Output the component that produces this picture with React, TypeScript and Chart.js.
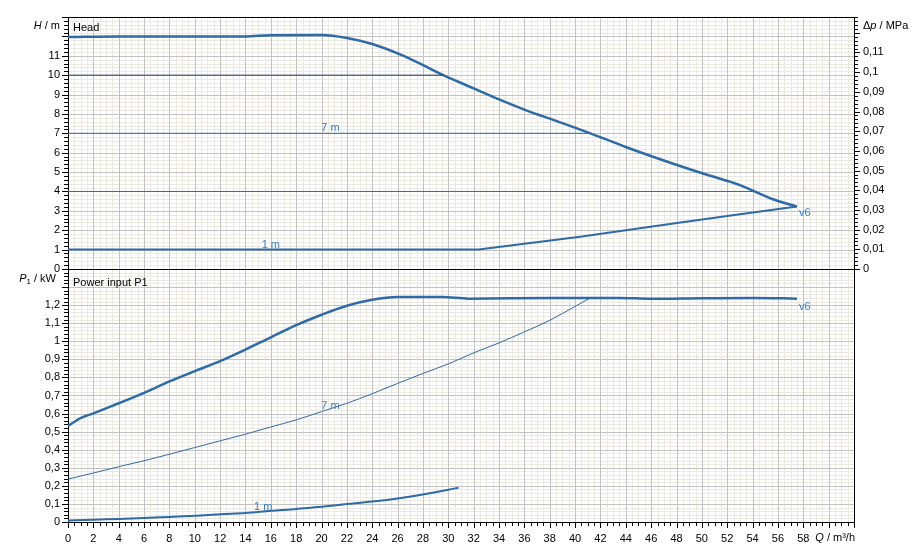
import React, { useEffect, useRef } from 'react';
import { Chart, registerables } from 'chart.js';

Chart.register(...registerables);

const FONT = '"Liberation Sans", Arial, sans-serif';
const CURVE = '#2e6aa6';
const CURVE_DARK = '#1f3a63';
const LABEL_BLUE = '#3d7ec2';
const GRID_MINOR = '#ebe9e1';
const GRID_MAJOR = '#c3c3c3';

const X_MAX = 62;
const H_MAX = 13;
const DP_MAX = 0.128;
const P_MAX = 1.4;

// tick labels
const flowTickLabels = [0, 2, 4, 6, 8, 10, 12, 14, 16, 18, 20, 22, 24, 26, 28, 30, 32, 34, 36, 38, 40, 42, 44, 46, 48, 50, 52, 54, 56, 58];
const headTickLabels = [0, 1, 2, 3, 4, 5, 6, 7, 8, 9, 10, 11];
const dpTickLabels = [0, 0.01, 0.02, 0.03, 0.04, 0.05, 0.06, 0.07, 0.08, 0.09, 0.1, 0.11];
const powerTickLabels = [0, 0.1, 0.2, 0.3, 0.4, 0.5, 0.6, 0.7, 0.8, 0.9, 1, 1.1, 1.2];

// Head: max curve (v6)
const flowMaxHead = [0, 4, 8, 14, 16, 20, 22, 24, 26.2, 28, 29.6, 32, 34.1, 36.2, 38.5, 41.2, 44.1, 47.75, 50.4, 53, 55.6, 57.5];
const headMax = [11.97, 12.0, 11.99, 12.0, 12.06, 12.07, 11.92, 11.61, 11.07, 10.52, 10.0, 9.32, 8.72, 8.17, 7.64, 7.0, 6.27, 5.43, 4.86, 4.33, 3.6, 3.22];

// Head: control curves
const flowCtrl10 = [0, 29.6];
const headCtrl10 = [10, 10];
const flowCtrl7 = [0, 41.2];
const headCtrl7 = [7, 7];
const flowCtrl4 = [0, 54.3];
const headCtrl4 = [4, 4];
const flowCtrl1Head = [0, 32.4, 36, 40.4, 44, 47.75, 52, 57.5];
const headCtrl1 = [1, 1, 1.3, 1.66, 2.0, 2.35, 2.73, 3.22];

// Power input P1
const flowMaxPower = [0, 1.07, 2, 4, 6, 8, 10, 12, 14, 16, 18, 20, 22, 24, 26, 29.5, 31.6, 38.2, 43.5, 46, 50, 54, 57.5];
const powerMax = [0.532, 0.578, 0.601, 0.657, 0.715, 0.778, 0.835, 0.89, 0.954, 1.022, 1.089, 1.147, 1.197, 1.23, 1.245, 1.245, 1.236, 1.24, 1.24, 1.235, 1.238, 1.24, 1.236];
const flowCtrl7Power = [0, 2, 4, 6, 8, 10, 12, 14, 16, 18, 20, 22, 24, 26, 28, 30, 32, 34, 36, 38, 40, 41.2];
const powerCtrl7 = [0.2375, 0.271, 0.306, 0.339, 0.375, 0.412, 0.449, 0.486, 0.526, 0.565, 0.611, 0.657, 0.71, 0.767, 0.822, 0.875, 0.936, 0.991, 1.052, 1.116, 1.193, 1.24];
const flowCtrl1Power = [0, 2, 4, 6, 8, 10, 12, 14, 16, 18, 20, 22, 24, 26, 28, 30, 30.8];
const powerCtrl1 = [0.008, 0.013, 0.017, 0.022, 0.028, 0.034, 0.043, 0.05, 0.062, 0.072, 0.085, 0.099, 0.113, 0.13, 0.152, 0.178, 0.19];

// layout (page pixels)
const PAGE_W = 921;
const PAGE_H = 559;
const LEFT_W = 68;
const RIGHT_W = 67;
const PLOT_TOP = 17;
const SEP_Y = 269;
const SEP_PAD = 18;
const TOP_CANVAS_H = SEP_Y + SEP_PAD;
const BOT_CANVAS_TOP = SEP_Y - SEP_PAD;
const BOT_CANVAS_H = PAGE_H - BOT_CANVAS_TOP;
const BOT_AXIS_Y = 522;

const fmt = (v: number) => String(+v.toFixed(4)).replace('.', ',');
const labelCb = (list: number[]) => {
  const set = list.map(fmt);
  return (v: any) => {
    const s = fmt(Number(v));
    return set.includes(s) ? s : '';
  };
};
const pts = (xs: number[], ys: number[]) => xs.map((x, i) => ({ x, y: ys[i] }));

const ds = (data: any[], color: string, width: number, yAxisID: string, smooth: boolean) => ({
  data,
  borderColor: color,
  borderWidth: width,
  pointRadius: 0,
  fill: false,
  tension: 0,
  cubicInterpolationMode: smooth ? ('monotone' as const) : ('default' as const),
  yAxisID,
  xAxisID: 'x',
  borderJoinStyle: 'round' as const,
});

type Part = { t: string; it?: boolean; sub?: boolean };
function drawRich(ctx: CanvasRenderingContext2D, parts: Part[], x: number, y: number, align: 'left' | 'right') {
  const fonts = parts.map(p => `${p.it ? 'italic ' : ''}${p.sub ? 8 : 11}px ${FONT}`);
  const widths = parts.map((p, i) => { ctx.font = fonts[i]; return ctx.measureText(p.t).width; });
  const total = widths.reduce((a, b) => a + b, 0);
  let cx = align === 'right' ? x - total : x;
  ctx.textAlign = 'left';
  ctx.textBaseline = 'middle';
  parts.forEach((p, i) => {
    ctx.font = fonts[i];
    ctx.fillText(p.t, cx, y + (p.sub ? 3 : 0));
    cx += widths[i];
  });
}

function drawGrid(chart: any, yId: string, yStep: number, yEvery: number, yMaxVal: number) {
  const ctx: CanvasRenderingContext2D = chart.ctx;
  const a = chart.chartArea;
  const xs = chart.scales.x;
  const ys = chart.scales[yId];
  const nx = Math.round(X_MAX / 0.5);
  const ny = Math.round(yMaxVal / yStep);
  const pass = (major: boolean) => {
    ctx.beginPath();
    for (let i = 1; i < nx; i++) {
      if ((i % 4 === 0) !== major) continue;
      const p = Math.round(xs.getPixelForValue(i * 0.5)) + 0.5;
      ctx.moveTo(p, a.top);
      ctx.lineTo(p, a.bottom);
    }
    for (let j = 1; j < ny; j++) {
      if ((j % yEvery === 0) !== major) continue;
      const p = Math.round(ys.getPixelForValue(j * yStep)) + 0.5;
      ctx.moveTo(a.left, p);
      ctx.lineTo(a.right, p);
    }
    ctx.strokeStyle = major ? GRID_MAJOR : GRID_MINOR;
    ctx.lineWidth = 1;
    ctx.stroke();
  };
  ctx.save();
  pass(false);
  pass(true);
  ctx.restore();
}

function drawYTicks(ctx: CanvasRenderingContext2D, scale: any, step: number, every: number, maxVal: number, xEdge: number, dir: number) {
  const n = Math.floor(maxVal / step + 1e-6);
  ctx.beginPath();
  for (let j = 0; j <= n; j++) {
    const len = j % every === 0 ? 6 : 4;
    const p = Math.round(scale.getPixelForValue(j * step)) + 0.5;
    ctx.moveTo(xEdge, p);
    ctx.lineTo(xEdge + dir * len, p);
  }
  ctx.strokeStyle = '#000';
  ctx.lineWidth = 1;
  ctx.stroke();
}

function drawXTicks(ctx: CanvasRenderingContext2D, scale: any, yEdge: number) {
  const n = Math.round(X_MAX / 0.5);
  ctx.beginPath();
  for (let i = 0; i <= n; i++) {
    const len = i % 4 === 0 ? 6 : 4;
    const p = Math.round(scale.getPixelForValue(i * 0.5)) + 0.5;
    ctx.moveTo(p, yEdge);
    ctx.lineTo(p, yEdge + len);
  }
  ctx.strokeStyle = '#000';
  ctx.lineWidth = 1;
  ctx.stroke();
}

function hLine(ctx: CanvasRenderingContext2D, x0: number, x1: number, y: number) {
  ctx.beginPath();
  ctx.moveTo(x0, Math.round(y) + 0.5);
  ctx.lineTo(x1, Math.round(y) + 0.5);
  ctx.strokeStyle = '#000';
  ctx.lineWidth = 1;
  ctx.stroke();
}

function curveLabel(ctx: CanvasRenderingContext2D, text: string, x: number, y: number, align: CanvasTextAlign) {
  ctx.font = `11px ${FONT}`;
  ctx.fillStyle = LABEL_BLUE;
  ctx.textAlign = align;
  ctx.textBaseline = 'middle';
  ctx.fillText(text, x, y);
}

const tickFont = { family: FONT, size: 11 };

const topPlugin = {
  id: 'topDecor',
  beforeDraw(chart: any) {
    drawGrid(chart, 'yH', 0.2, 5, H_MAX);
  },
  afterDraw(chart: any) {
    const ctx: CanvasRenderingContext2D = chart.ctx;
    const a = chart.chartArea;
    const xs = chart.scales.x;
    const yH = chart.scales.yH;
    const yDp = chart.scales.yDp;
    ctx.save();
    hLine(ctx, a.left, a.right, a.top);
    drawYTicks(ctx, yH, 0.2, 5, H_MAX, a.left, -1);
    drawYTicks(ctx, yDp, 0.002, 5, DP_MAX, a.right, 1);
    ctx.fillStyle = '#000';
    drawRich(ctx, [{ t: 'H', it: true }, { t: ' / m' }], 60, 26, 'right');
    drawRich(ctx, [{ t: 'Δ' }, { t: 'p', it: true }, { t: ' / MPa' }], 863, 26, 'left');
    ctx.font = `11px ${FONT}`;
    ctx.textAlign = 'left';
    ctx.textBaseline = 'middle';
    ctx.fillText('Head', a.left + 5, 28);
    curveLabel(ctx, '7 m', xs.getPixelForValue(20.7), yH.getPixelForValue(7) - 5, 'center');
    curveLabel(ctx, '1 m', xs.getPixelForValue(16.0), yH.getPixelForValue(1) - 5, 'center');
    curveLabel(ctx, 'v6', xs.getPixelForValue(57.66), yH.getPixelForValue(2.89), 'left');
    ctx.restore();
  },
};

const bottomPlugin = {
  id: 'bottomDecor',
  beforeDraw(chart: any) {
    drawGrid(chart, 'yP', 0.02, 5, P_MAX);
  },
  afterDraw(chart: any) {
    const ctx: CanvasRenderingContext2D = chart.ctx;
    const a = chart.chartArea;
    const xs = chart.scales.x;
    const yP = chart.scales.yP;
    ctx.save();
    hLine(ctx, a.left, a.right + 1, a.top);
    drawYTicks(ctx, yP, 0.02, 5, P_MAX, a.left, -1);
    drawXTicks(ctx, xs, a.bottom);
    ctx.fillStyle = '#000';
    drawRich(ctx, [{ t: 'P', it: true }, { t: '1', sub: true }, { t: ' / kW' }], 56, 279 - BOT_CANVAS_TOP, 'right');
    drawRich(ctx, [{ t: 'Q', it: true }, { t: ' / m³/h' }], 855, 538 - BOT_CANVAS_TOP, 'right');
    ctx.font = `11px ${FONT}`;
    ctx.textAlign = 'left';
    ctx.textBaseline = 'middle';
    ctx.fillStyle = '#000';
    ctx.fillText('Power input P1', a.left + 5, 283 - BOT_CANVAS_TOP);
    curveLabel(ctx, 'v6', xs.getPixelForValue(57.66), yP.getPixelForValue(1.19), 'left');
    curveLabel(ctx, '7 m', xs.getPixelForValue(20.7), yP.getPixelForValue(0.642), 'center');
    curveLabel(ctx, '1 m', xs.getPixelForValue(15.4), yP.getPixelForValue(0.083), 'center');
    ctx.restore();
  },
};

export default function App() {
  const topRef = useRef<HTMLCanvasElement>(null);
  const botRef = useRef<HTMLCanvasElement>(null);

  useEffect(() => {
    document.body.style.margin = '0';
    const top = new Chart(topRef.current as HTMLCanvasElement, {
      type: 'line',
      data: {
        datasets: [
          ds(pts(flowCtrl10, headCtrl10), CURVE_DARK, 1, 'yH', false),
          ds(pts(flowCtrl7, headCtrl7), CURVE, 1, 'yH', false),
          ds(pts(flowCtrl4, headCtrl4), CURVE, 1, 'yH', false),
          ds(pts(flowCtrl1Head, headCtrl1), CURVE, 2, 'yH', false),
          ds(pts(flowMaxHead, headMax), CURVE, 2.5, 'yH', true),
        ] as any,
      },
      options: {
        responsive: false,
        animation: false,
        events: [],
        layout: { padding: { top: PLOT_TOP, left: 0, right: 0, bottom: 0 } },
        plugins: { legend: { display: false }, tooltip: { enabled: false } },
        scales: {
          x: {
            type: 'linear', min: 0, max: X_MAX,
            ticks: { display: false, stepSize: 2 },
            grid: { display: false, drawTicks: false },
            border: { display: true, color: '#000', width: 1 },
            afterFit: (s: any) => { s.height = TOP_CANVAS_H - SEP_Y; },
          },
          yH: {
            type: 'linear', position: 'left', min: 0, max: H_MAX,
            ticks: { stepSize: 1, autoSkip: false, padding: 8, color: '#000', font: tickFont, callback: labelCb(headTickLabels) },
            grid: { display: false, drawTicks: false },
            border: { display: true, color: '#000', width: 1 },
            afterFit: (s: any) => { s.width = LEFT_W; },
          },
          yDp: {
            type: 'linear', position: 'right', min: 0, max: DP_MAX,
            ticks: { stepSize: 0.01, autoSkip: false, padding: 9, color: '#000', font: tickFont, callback: labelCb(dpTickLabels) },
            grid: { display: false, drawTicks: false },
            border: { display: true, color: '#000', width: 1 },
            afterFit: (s: any) => { s.width = RIGHT_W; },
          },
        },
      } as any,
      plugins: [topPlugin],
    });

    const bottom = new Chart(botRef.current as HTMLCanvasElement, {
      type: 'line',
      data: {
        datasets: [
          ds(pts(flowCtrl7Power, powerCtrl7), CURVE, 1, 'yP', true),
          ds(pts(flowCtrl1Power, powerCtrl1), CURVE, 2, 'yP', true),
          ds(pts(flowMaxPower, powerMax), CURVE, 2.5, 'yP', true),
        ] as any,
      },
      options: {
        responsive: false,
        animation: false,
        events: [],
        layout: { padding: { top: SEP_Y - BOT_CANVAS_TOP, left: 0, right: 0, bottom: 0 } },
        plugins: { legend: { display: false }, tooltip: { enabled: false } },
        scales: {
          x: {
            type: 'linear', min: 0, max: X_MAX,
            ticks: { stepSize: 2, autoSkip: false, maxRotation: 0, padding: 10, color: '#000', font: tickFont, callback: labelCb(flowTickLabels) },
            grid: { display: false, drawTicks: false },
            border: { display: true, color: '#000', width: 1 },
            afterFit: (s: any) => { s.height = PAGE_H - BOT_AXIS_Y; },
          },
          yP: {
            type: 'linear', position: 'left', min: 0, max: P_MAX,
            ticks: { stepSize: 0.1, autoSkip: false, padding: 8, color: '#000', font: tickFont, callback: labelCb(powerTickLabels) },
            grid: { display: false, drawTicks: false },
            border: { display: true, color: '#000', width: 1 },
            afterFit: (s: any) => { s.width = LEFT_W; },
          },
          yR: {
            type: 'linear', position: 'right', min: 0, max: 1,
            ticks: { display: false },
            grid: { display: false, drawTicks: false },
            border: { display: true, color: '#000', width: 1 },
            afterFit: (s: any) => { s.width = RIGHT_W; },
          },
        },
      } as any,
      plugins: [bottomPlugin],
    });

    return () => {
      top.destroy();
      bottom.destroy();
    };
  }, []);

  return (
    <div style={{ position: 'relative', width: PAGE_W, height: PAGE_H, background: '#fff' }}>
      <canvas ref={topRef} width={PAGE_W} height={TOP_CANVAS_H} style={{ position: 'absolute', left: 0, top: 0, display: 'block' }} />
      <canvas ref={botRef} width={PAGE_W} height={BOT_CANVAS_H} style={{ position: 'absolute', left: 0, top: BOT_CANVAS_TOP, display: 'block' }} />
    </div>
  );
}
